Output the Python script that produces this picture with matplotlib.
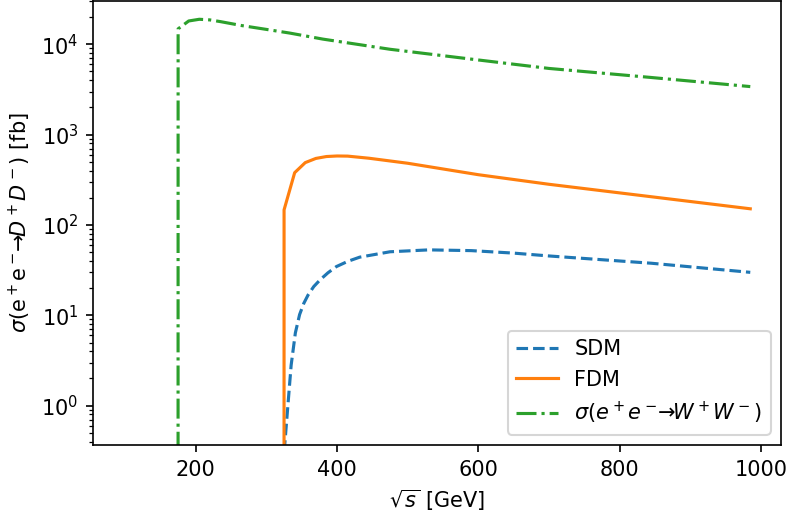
import numpy as np
import matplotlib
matplotlib.use('Agg')
import matplotlib.pyplot as plt

# sqrt(s) [GeV] and cross sections [fb]
x_sdm = [100, 310, 325, 335, 341, 347, 353, 359, 367, 376, 387, 399, 415, 432, 475, 530, 590, 650, 700, 845, 985]
y_sdm = [0, 0, 0.3, 2.8, 6.4, 10.2, 13.6, 16.8, 20.8, 24.7, 29.5, 34.6, 39.5, 44, 50.5, 53, 52, 48.8, 45.4, 37.7, 29.9]

x_fdm = [100, 310, 325, 340, 355, 370, 385, 400, 415, 445, 500, 600, 700, 850, 985]
y_fdm = [0, 0, 147, 379, 490, 545, 572, 580, 578, 548, 482, 360, 282, 203, 151]

x_ww = [100, 160, 175, 190, 205, 220, 235, 265, 300, 333, 380, 475, 600, 700, 843, 985]
y_ww = [0, 0, 14800, 18100, 18900, 18600, 17800, 16100, 14600, 13300, 11400, 8800, 6700, 5400, 4300, 3400]

fig = plt.figure(figsize=(789 / 150, 517 / 150), dpi=150)
ax = fig.add_axes([93 / 789, 72 / 517, 688 / 789, 444.5 / 517])

ax.plot(x_sdm, y_sdm, '--', color='tab:blue', label='SDM')
ax.plot(x_fdm, y_fdm, '-', color='tab:orange', label='FDM')
ax.plot(x_ww, y_ww, '-.', color='tab:green', label=r'$\sigma(e^+e^-\!\!\to\!\! W^+W^-)$')

ax.set_yscale('log')
ax.set_xlim(54.5, 1028.5)
ax.set_ylim(0.367, 3.05e4)
ax.set_xticks([200, 400, 600, 800, 1000])

ax.set_xlabel(r'$\sqrt{s}$ [GeV]')
ax.set_ylabel(r'$\sigma(\mathrm{e}^+\mathrm{e}^-\!\!\to\!\! D^+D^-)$ [fb]')
ax.legend(loc='lower right')

fig.savefig('out.png', dpi=150)
plt.close(fig)
